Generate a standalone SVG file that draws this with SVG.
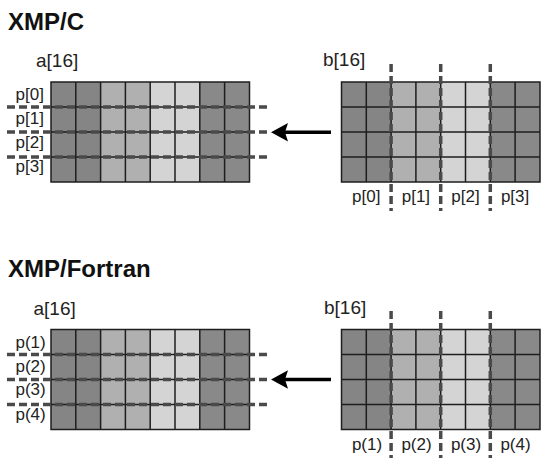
<svg xmlns="http://www.w3.org/2000/svg" xmlns:xlink="http://www.w3.org/1999/xlink" width="550" height="468" viewBox="0 0 550 468">
<style>
.title{font-family:"Liberation Sans",Arial,sans-serif;font-weight:bold;font-size:24px;fill:#111}
.lbl{font-family:"Liberation Sans",Arial,sans-serif;font-size:17px;fill:#222}
.arr{font-family:"Liberation Sans",Arial,sans-serif;font-size:19px;fill:#222}
.mid{text-anchor:middle}
.dash{stroke:#4a4a4a;stroke-width:3.5;stroke-dasharray:8 4;fill:none}
.grid{stroke:#1e1e1e;stroke-width:1.5;fill:none}
.arrow{stroke:#000;stroke-width:3.5;fill:none}
</style>
<defs>
<g id="g8x4">
<rect x="0" y="0" width="49.6" height="100" fill="#858585"/>
<rect x="49.6" y="0" width="49.6" height="100" fill="#b0b0b0"/>
<rect x="99.2" y="0" width="49.6" height="100" fill="#d4d4d4"/>
<rect x="148.8" y="0" width="49.7" height="100" fill="#898989"/>
<path class="grid" d="M0,0H198.5V100H0Z M24.8,0V100 M49.6,0V100 M74.4,0V100 M99.2,0V100 M124,0V100 M148.8,0V100 M173.6,0V100 M0,25H198.5 M0,50H198.5 M0,75H198.5"/>
</g>
</defs>
<rect width="550" height="468" fill="#fff"/>

<g id="section-c">
<text id="title-c" class="title" x="8" y="30">XMP/C</text>
<g id="array-a-c">
<text class="arr" x="36" y="67">a[16]</text>
<use xlink:href="#g8x4" x="51" y="82"/>
<path class="dash" d="M7,107H267 M7,132H267 M7,157H267"/>
<text class="lbl" x="15.5" y="100">p[0]</text>
<text class="lbl" x="15.5" y="124">p[1]</text>
<text class="lbl" x="15.5" y="147.5">p[2]</text>
<text class="lbl" x="15.5" y="172">p[3]</text>
</g>
<g id="array-b-c">
<text class="arr" x="323" y="65.5">b[16]</text>
<use xlink:href="#g8x4" x="341.5" y="82"/>
<path class="dash" d="M391.1,64V211 M440.7,64V211 M490.3,64V211"/>
<text class="lbl mid" x="366.3" y="202">p[0]</text>
<text class="lbl mid" x="415.9" y="202">p[1]</text>
<text class="lbl mid" x="465.5" y="202">p[2]</text>
<text class="lbl mid" x="515.1" y="202">p[3]</text>
</g>
</g>

<g id="section-f">
<text id="title-f" class="title" x="8" y="277">XMP/Fortran</text>
<g id="array-a-f">
<text class="arr" x="33.5" y="315">a[16]</text>
<use xlink:href="#g8x4" x="51" y="329.5"/>
<path class="dash" d="M7,354.5H267 M7,379.5H267 M7,404.5H267"/>
<text class="lbl" x="15.5" y="347.5">p(1)</text>
<text class="lbl" x="15.5" y="371.5">p(2)</text>
<text class="lbl" x="15.5" y="395">p(3)</text>
<text class="lbl" x="15.5" y="419.5">p(4)</text>
</g>
<g id="array-b-f">
<text class="arr" x="324" y="314">b[16]</text>
<use xlink:href="#g8x4" x="341.5" y="329.5"/>
<path class="dash" d="M391.1,311V458 M440.7,311V458 M490.3,311V458"/>
<text class="lbl mid" x="367" y="449.5">p(1)</text>
<text class="lbl mid" x="416.5" y="449.5">p(2)</text>
<text class="lbl mid" x="466" y="449.5">p(3)</text>
<text class="lbl mid" x="515.5" y="449.5">p(4)</text>
</g>
</g>

<g id="connectors">
<path class="arrow" d="M331,132.3H284"/>
<path d="M271,132.3L288,123L285,132.3L288,141.6Z" fill="#000"/>
<path class="arrow" d="M331,379.5H284"/>
<path d="M271,379.5L288,370.2L285,379.5L288,388.8Z" fill="#000"/>
</g>
</svg>
